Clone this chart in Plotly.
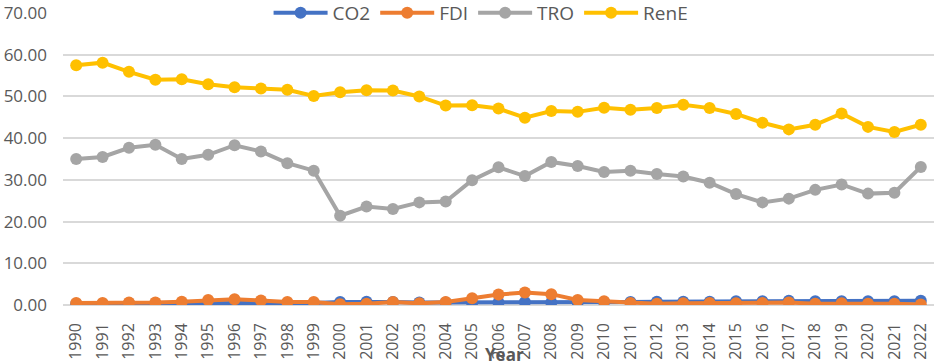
import plotly.graph_objects as go

years = [str(y) for y in range(1990, 2023)]

co2 = [0.3, 0.3, 0.4, 0.4, 0.4, 0.3, 0.3, 0.3, 0.4, 0.5, 0.7, 0.8, 0.7, 0.6, 0.6, 0.5, 0.6, 0.7, 0.6, 0.6,
       0.7, 0.7, 0.8, 0.8, 0.8, 0.9, 0.9, 1.0, 0.9, 0.9, 0.9, 0.9, 1.0]
fdi = [0.5, 0.5, 0.6, 0.6, 0.8, 1.2, 1.4, 1.1, 0.7, 0.7, 0.2, 0.3, 0.7, 0.4, 0.7, 1.6, 2.5, 3.0, 2.6, 1.2,
       0.9, 0.5, 0.3, 0.4, 0.5, 0.4, 0.5, 0.6, 0.3, 0.4, 0.3, 0.3, 0.1]
tro = [35.0, 35.5, 37.7, 38.4, 35.0, 36.0, 38.3, 36.8, 34.0, 32.2, 21.4, 23.6, 23.0, 24.6, 24.8, 29.9, 33.0,
       30.9, 34.3, 33.3, 31.9, 32.2, 31.4, 30.8, 29.3, 26.6, 24.6, 25.5, 27.6, 28.9, 26.7, 26.9, 33.1]
rene = [57.5, 58.1, 55.9, 54.0, 54.1, 52.9, 52.2, 51.9, 51.6, 50.1, 51.0, 51.5, 51.4, 50.0, 47.8, 47.9, 47.1,
        44.9, 46.5, 46.3, 47.3, 46.8, 47.2, 48.0, 47.2, 45.8, 43.7, 42.1, 43.2, 45.9, 42.7, 41.5, 43.2]

series = [("CO2", co2, "#4472C4"), ("FDI", fdi, "#ED7D31"),
          ("TRO", tro, "#A5A5A5"), ("RenE", rene, "#FFC000")]

fig = go.Figure()
for name, vals, col in series:
    fig.add_trace(go.Scatter(x=years, y=vals, name=name, mode="lines+markers",
                             line=dict(color=col, width=4),
                             marker=dict(color=col, size=12)))

font = "Open Sans, Liberation Sans, sans-serif"
fig.update_layout(
    width=934, height=363,
    margin=dict(l=63, r=0, t=13, b=58, autoexpand=False),
    paper_bgcolor="white", plot_bgcolor="white",
    font=dict(family=font, color="#595959", size=16),
    showlegend=True,
    legend=dict(orientation="h", x=0.48, xanchor="center", y=1.0, yanchor="middle",
                font=dict(size=19, color="#595959"), itemwidth=54,
                bgcolor="rgba(0,0,0,0)"),
    xaxis=dict(type="category", range=[-0.5, 32.5], tickangle=-90,
               tickfont=dict(size=16, color="#595959"), showgrid=False,
               showline=False, ticks="", ticklabelstandoff=14),
    yaxis=dict(range=[0, 70], dtick=10, tickformat=".2f",
               tickfont=dict(size=17, color="#595959"),
               gridcolor="#D9D9D9", gridwidth=1.5, zeroline=True,
               zerolinecolor="#D9D9D9", zerolinewidth=1.5, showline=False,
               ticklabelstandoff=15),
    annotations=[dict(text="<b>Year</b>", xref="paper", yref="paper", x=0.507, y=-0.17,
                      xanchor="center", yanchor="middle", showarrow=False,
                      font=dict(size=17, color="#595959"))],
)

fig.write_html("out.html", config={"displayModeBar": False},
               post_script="document.body.style.margin='0';document.body.style.overflow='hidden';")
